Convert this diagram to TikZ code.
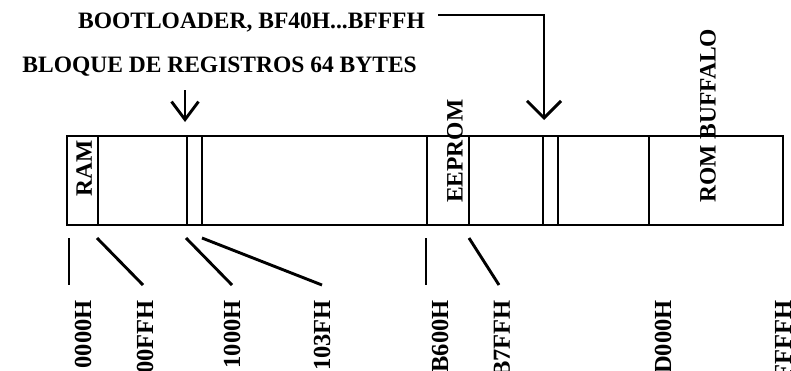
\documentclass[tikz,border=0pt]{standalone}
\usepackage{fontspec}
\setmainfont{Liberation Serif}
\usetikzlibrary{arrows.meta}

\tikzset{
  linea/.style={line width=2.9pt},
  texto/.style={font=\fontsize{23.5}{28}\selectfont\bfseries, inner sep=0pt},
  zona/.style={texto, rotate=90, anchor=west},
  dir/.style={texto, font=\fontsize{24.5}{28}\selectfont\bfseries, rotate=90, anchor=east},
}

\begin{document}
\begin{tikzpicture}[x=1pt, y=-1pt]
    \clip (0,0) rectangle (791,370);
    % Mapa de memoria
    \draw[linea] (67,136) rectangle (783,225);
    \foreach \x in {98,187,202,427,469,543,558,649} {
        \draw[linea] (\x,136) -- (\x,225);
    }
    \node[zona] (ram) at (84,197) {RAM};
    \node[zona] (eeprom) at (455,203) {EEPROM};
    \node[zona] (rombuf) at (708,203) {ROM BUFFALO};

    % Titulos y flechas
    \node[texto, anchor=base east] (boot) at (425,28) {BOOTLOADER, BF40H...BFFFH};
    \node[texto, anchor=base east] (bloque) at (417,72) {BLOQUE DE REGISTROS 64 BYTES};
    \coordinate (bootini) at (438,15);
    \coordinate (bootfin) at (544,120);
    \draw[linea, -{Straight Barb[length=17pt, width=34pt]}] (bootini) -| (bootfin);
    \coordinate (regini) at (185,90);
    \coordinate (regfin) at (185,122);
    \draw[linea, -{Straight Barb[length=18pt, width=27pt]}] (regini) -- (regfin);

    % Direcciones
    \foreach \a/\b/\n in {69/69/1, 97/143/2, 186/232/3, 202/322/4, 426/426/5, 469/499/6} {
        \coordinate (s\n) at (\a,238);
        \coordinate (e\n) at (\b,285);
        \draw[linea] (s\n) -- (e\n);
    }
    \foreach \x/\t in {83/0000H, 145/00FFH, 232/1000H, 322/103FH, 440/B600H, 502/B7FFH, 663/D000H, 783/FFFFH} {
        \node[dir] (d\t) at (\x,300) {\t};
    }
\end{tikzpicture}
\end{document}
